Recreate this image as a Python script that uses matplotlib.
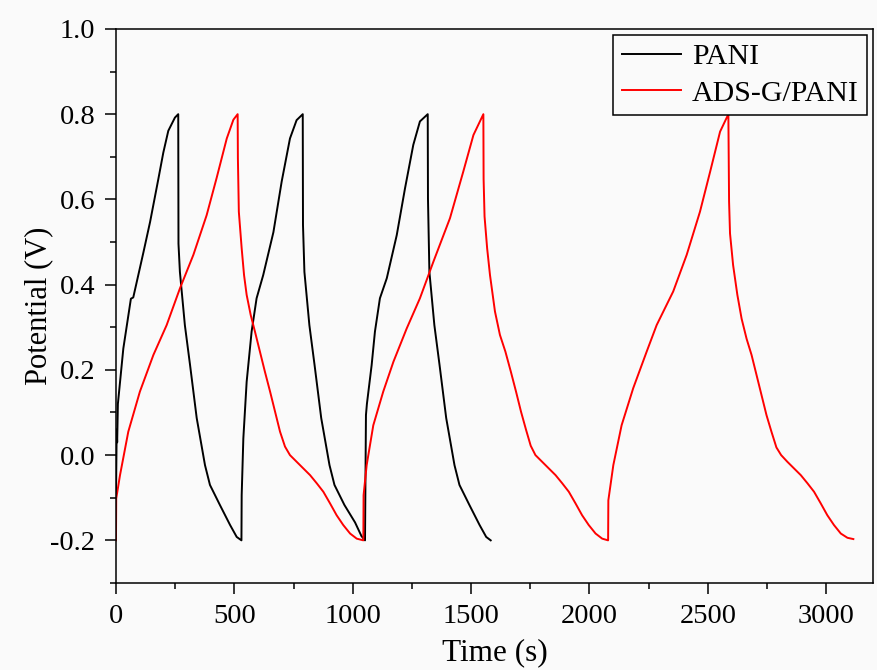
import numpy as np
import matplotlib
matplotlib.use('Agg')
from matplotlib import pyplot as plt
from matplotlib.ticker import MultipleLocator, FormatStrFormatter

# PANI (negro) - tiempo (s) y potencial (V)
t_pani = [0, 3, 5, 8, 31, 63, 73, 116, 144, 179, 200, 221, 249, 263,
          264, 270, 291, 313, 341, 376, 397, 439, 482, 510, 530,
          531, 538, 552, 573, 594, 622, 665, 700, 735, 763, 789,
          790, 796, 817, 839, 867, 902, 923, 965, 1010, 1037, 1052,
          1056, 1060, 1080, 1094, 1115, 1144, 1186, 1221, 1256, 1284, 1317,
          1318, 1324, 1345, 1367, 1395, 1430, 1451, 1493, 1536, 1564, 1583]
v_pani = [-0.1, 0.06, 0.03, 0.12, 0.25, 0.367, 0.37, 0.476, 0.547, 0.648, 0.71, 0.761, 0.792, 0.80,
          0.496, 0.43, 0.305, 0.211, 0.087, -0.0235, -0.07, -0.117, -0.164, -0.192, -0.2,
          -0.094, 0.039, 0.172, 0.29, 0.368, 0.4225, 0.523, 0.642, 0.743, 0.786, 0.80,
          0.54, 0.43, 0.305, 0.211, 0.087, -0.0235, -0.07, -0.117, -0.158, -0.19, -0.2,
          0.094, 0.12, 0.211, 0.29, 0.368, 0.415, 0.516, 0.626, 0.728, 0.783, 0.80,
          0.602, 0.43, 0.305, 0.211, 0.087, -0.0235, -0.07, -0.117, -0.164, -0.192, -0.2]

# ADS-G/PANI (rojo)
t_ads = [0, 1, 17, 52, 101, 158, 214, 270, 327, 383, 425, 468, 496, 514,
         515, 519, 531, 541, 552, 569, 587, 608, 629, 651, 672, 693, 714, 735,
         763, 791, 820, 848, 876, 904, 932, 960, 989, 1017, 1045,
         1046, 1059, 1087, 1129, 1172, 1228, 1284, 1341, 1411, 1467, 1510, 1552,
         1553, 1557, 1568, 1580, 1601, 1622, 1645, 1668, 1690, 1711, 1732, 1752, 1772,
         1800, 1828, 1857, 1885, 1913, 1941, 1969, 1997, 2026, 2054, 2079,
         2080, 2101, 2136, 2185, 2242, 2284, 2354, 2411, 2467, 2510, 2552, 2587,
         2590, 2594, 2607, 2625, 2643, 2664, 2685, 2706, 2727, 2748, 2769, 2790, 2810,
         2836, 2864, 2893, 2921, 2949, 2977, 3005, 3033, 3062, 3090, 3115]
v_ads = [-0.2, -0.102, -0.047, 0.055, 0.149, 0.235, 0.305, 0.391, 0.47, 0.563, 0.65, 0.743, 0.787, 0.80,
         0.697, 0.571, 0.485, 0.4225, 0.376, 0.329, 0.29, 0.243, 0.196, 0.149, 0.102, 0.055, 0.02, 0.0,
         -0.0155, -0.031, -0.047, -0.066, -0.086, -0.113, -0.141, -0.164, -0.184, -0.196, -0.2,
         -0.094, -0.0235, 0.07, 0.149, 0.219, 0.297, 0.368, 0.454, 0.556, 0.665, 0.751, 0.80,
         0.648, 0.56, 0.485, 0.4225, 0.337, 0.282, 0.243, 0.196, 0.149, 0.102, 0.06, 0.022, 0.0,
         -0.0155, -0.031, -0.047, -0.066, -0.086, -0.113, -0.141, -0.164, -0.184, -0.196, -0.2,
         -0.106, -0.0235, 0.07, 0.157, 0.243, 0.305, 0.384, 0.47, 0.571, 0.665, 0.759, 0.80,
         0.595, 0.52, 0.446, 0.376, 0.32, 0.273, 0.235, 0.188, 0.141, 0.094, 0.055, 0.018, 0.0,
         -0.0155, -0.031, -0.047, -0.066, -0.086, -0.113, -0.141, -0.164, -0.184, -0.194, -0.197]

plt.rcParams['font.family'] = ['Liberation Serif', 'DejaVu Serif']

fig = plt.figure(figsize=(8.78, 6.70), dpi=100, facecolor='#fafafa')
ax = fig.add_axes([0.1321, 0.1299, 0.8622, 0.8269])
ax.set_facecolor('#fafafa')

ax.plot(t_pani, v_pani, color='black', lw=1.4, label='PANI')
ax.plot(t_ads, v_ads, color='red', lw=1.4, label='ADS-G/PANI')

ax.set_xlim(0, 3198)
ax.set_ylim(-0.3, 1.0)
ax.xaxis.set_major_locator(MultipleLocator(500))
ax.xaxis.set_minor_locator(MultipleLocator(250))
ax.yaxis.set_major_locator(MultipleLocator(0.2))
ax.yaxis.set_minor_locator(MultipleLocator(0.1))
ax.yaxis.set_major_formatter(FormatStrFormatter('%.1f'))

ax.tick_params(which='major', direction='out', length=8, width=1.1, labelsize=20.5, pad=7)
ax.tick_params(which='minor', direction='out', length=4.5, width=1.1)
ax.tick_params(top=False, right=False)
for s in ax.spines.values():
    s.set_linewidth(1.1)

ax.set_xlabel('Time (s)', fontsize=22.5, labelpad=7)
ax.set_ylabel('Potential (V)', fontsize=22, labelpad=-2)

leg = ax.legend(loc='upper right', fontsize=21.5, fancybox=False, framealpha=1,
                edgecolor='black', facecolor='#fafafa', handlelength=2.0,
                borderaxespad=0.2, labelspacing=0.32, borderpad=0.28, handletextpad=0.35)
leg.get_frame().set_linewidth(1.1)

plt.savefig('out.png', dpi=100, facecolor=fig.get_facecolor())
